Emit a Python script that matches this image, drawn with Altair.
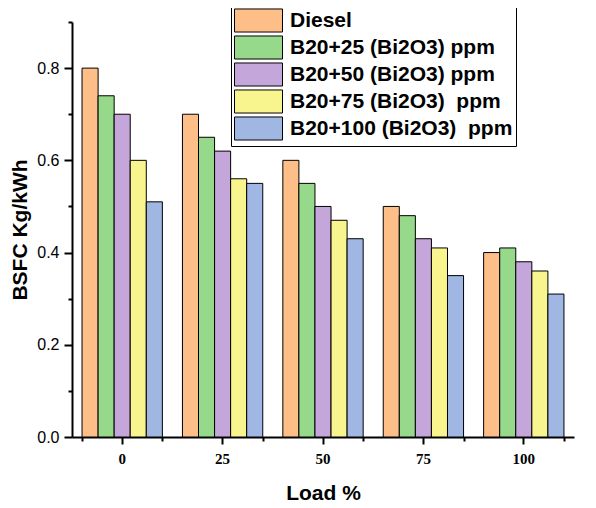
import altair as alt
import pandas as pd

loads = ["0", "25", "50", "75", "100"]
series = ["Diesel", "B20+25 (Bi2O3) ppm", "B20+50 (Bi2O3) ppm",
          "B20+75 (Bi2O3)\u00a0 ppm", "B20+100 (Bi2O3)\u00a0 ppm"]
colors = ["#FDBF87", "#97D98A", "#C4A6DB", "#F9F58E", "#9FB7E2"]
diesel = [0.80, 0.70, 0.60, 0.50, 0.40]
b25 = [0.74, 0.65, 0.55, 0.48, 0.41]
b50 = [0.70, 0.62, 0.50, 0.43, 0.38]
b75 = [0.60, 0.56, 0.47, 0.41, 0.36]
b100 = [0.51, 0.55, 0.43, 0.35, 0.31]

rows = []
for s, vals in zip(series, [diesel, b25, b50, b75, b100]):
    for l, v in zip(loads, vals):
        rows.append({"Load": l, "Series": s, "BSFC": v})
df = pd.DataFrame(rows)

xscale = alt.Scale(domain=loads, paddingInner=0.2, paddingOuter=0.1)
yscale = alt.Scale(domain=[0, 0.9], nice=False)

bars = alt.Chart(df).mark_bar(stroke="black", strokeWidth=1).encode(
    x=alt.X("Load:N", scale=xscale, sort=loads,
            axis=alt.Axis(title="Load %", orient="bottom", labelAngle=0,
                          labelFont="Liberation Serif", labelFontWeight="bold",
                          labelFontSize=15, labelColor="black", labelPadding=7,
                          tickSize=7, tickWidth=2, tickColor="black",
                          domainColor="black", domainWidth=2,
                          titleFont="Liberation Sans", titleFontSize=21,
                          titleFontWeight="bold", titleColor="black",
                          titlePadding=16)),
    xOffset=alt.XOffset("Series:N", sort=series,
                        scale=alt.Scale(domain=series, paddingInner=0, paddingOuter=0)),
    y=alt.Y("BSFC:Q", scale=yscale,
            axis=alt.Axis(title="BSFC Kg/kWh", orient="left",
                          values=[0, 0.2, 0.4, 0.6, 0.8], format=".1f",
                          labelFont="Liberation Sans", labelFontSize=16,
                          labelColor="black", labelPadding=5,
                          tickSize=8, tickWidth=2, tickColor="black",
                          domainColor="black", domainWidth=2,
                          titleFont="Liberation Sans", titleFontSize=21,
                          titleFontWeight="bold", titleColor="black",
                          titlePadding=6, grid=False)),
    color=alt.Color("Series:N", sort=series,
                    scale=alt.Scale(domain=series, range=colors),
                    legend=alt.Legend(title=None, orient="none",
                                      legendX=159, legendY=-17,
                                      strokeColor="black", padding=3,
                                      symbolType="M-1,-0.96H3V0.96H-1Z",
                                      symbolSize=576,
                                      symbolStrokeColor="black",
                                      symbolStrokeWidth=1,
                                      symbolOpacity=1,
                                      labelFont="Liberation Sans",
                                      labelFontSize=21, labelFontWeight="bold",
                                      labelColor="black", labelOffset=31,
                                      rowPadding=-3, labelLimit=400)),
)

minor = alt.Chart(df).mark_bar(opacity=0).encode(
    x=alt.X("Load:N", scale=xscale, sort=loads,
            axis=alt.Axis(title=None, orient="bottom", labels=False,
                          domain=False, tickBand="extent", tickSize=4,
                          tickWidth=2, tickColor="black")),
    y=alt.Y("BSFC:Q", scale=yscale,
            axis=alt.Axis(title=None, orient="left", labels=False,
                          domain=False, values=[0.1, 0.3, 0.5, 0.7, 0.9],
                          tickSize=4, tickWidth=2, tickColor="black",
                          grid=False)),
)

chart = alt.layer(bars, minor).resolve_axis(x="independent", y="independent").properties(
    width=502, height=415,
    autosize=alt.AutoSizeParams(type="none"),
    padding={"left": 64, "top": 14, "right": 10, "bottom": 70},
).configure_view(stroke=None).configure_axis(grid=False)

chart.save("out.html", embed_options={"renderer": "svg", "actions": False})
